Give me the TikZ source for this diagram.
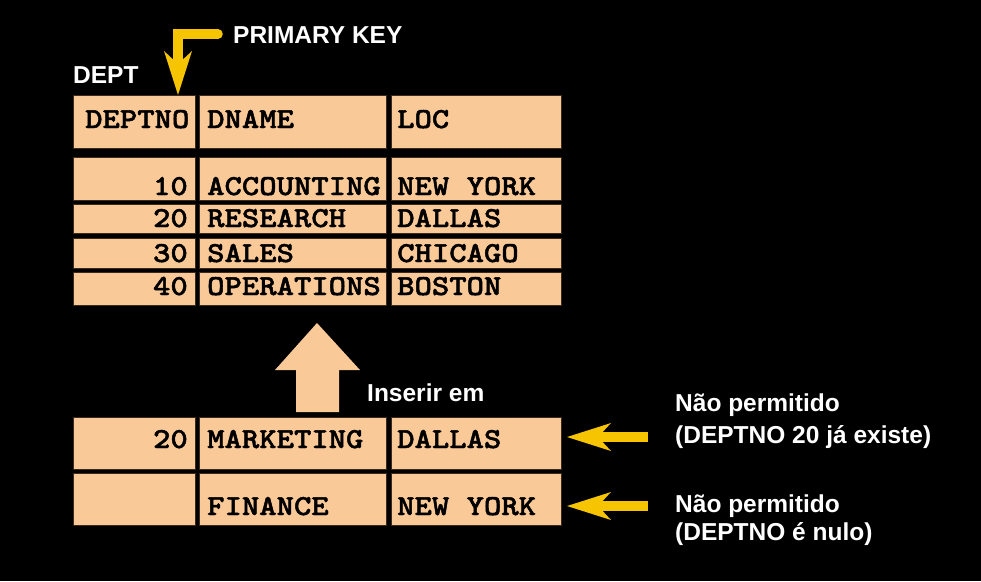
\documentclass[tikz,border=0pt]{standalone}
\usepackage{fontspec}
\setmainfont{Liberation Sans}
\newfontfamily\cellfont[FakeStretch=1.14,FakeBold=1.6]{lmmonolt10-bold.otf}
\usetikzlibrary{arrows.meta}
\definecolor{peach}{RGB}{250,201,152}
\definecolor{gold}{RGB}{246,196,0}
\definecolor{celledge}{RGB}{60,42,30}
\begin{document}
\begin{tikzpicture}[x=1pt,y=-1pt,
  cell/.style={draw=celledge, line width=1pt, fill=peach, rectangle, inner sep=0pt, outer sep=0pt},
  ctext/.style={font=\cellfont\fontsize{29}{29}\selectfont, inner sep=0pt, text=black},
  ctl/.style={ctext, anchor=base west},
  ctr/.style={ctext, anchor=base east},
  wlabel/.style={font=\bfseries\fontsize{24.5}{24.5}\selectfont, text=white, inner sep=0pt, anchor=base west},
  yarrow/.style={draw=gold, line width=9.5pt, line cap=round, line join=miter,
    -{Stealth[length=44pt,width=28pt,inset=13pt,line width=0pt]}},
]
\useasboundingbox (0,0) rectangle (981,581);
\fill[black] (0,0) rectangle (981,581);

% header row
\node[cell, minimum width=122pt, minimum height=53pt] (h1) at (134,121.5) {};
\node[cell, minimum width=187pt, minimum height=53pt] (h2) at (292.5,121.5) {};
\node[cell, minimum width=170pt, minimum height=53pt] (h3) at (476,121.5) {};
% data rows
\node[cell, minimum width=122pt, minimum height=43pt] (a1) at (134,178.5) {};
\node[cell, minimum width=187pt, minimum height=43pt] (a2) at (292.5,178.5) {};
\node[cell, minimum width=170pt, minimum height=43pt] (a3) at (476,178.5) {};
\node[cell, minimum width=122pt, minimum height=29pt] (b1) at (134,218.5) {};
\node[cell, minimum width=187pt, minimum height=29pt] (b2) at (292.5,218.5) {};
\node[cell, minimum width=170pt, minimum height=29pt] (b3) at (476,218.5) {};
\node[cell, minimum width=122pt, minimum height=30pt] (c1) at (134,253) {};
\node[cell, minimum width=187pt, minimum height=30pt] (c2) at (292.5,253) {};
\node[cell, minimum width=170pt, minimum height=30pt] (c3) at (476,253) {};
\node[cell, minimum width=122pt, minimum height=33pt] (d1) at (134,288.5) {};
\node[cell, minimum width=187pt, minimum height=33pt] (d2) at (292.5,288.5) {};
\node[cell, minimum width=170pt, minimum height=33pt] (d3) at (476,288.5) {};
% rows to insert
\node[cell, minimum width=122pt, minimum height=52pt] (m1) at (134,443) {};
\node[cell, minimum width=187pt, minimum height=52pt] (m2) at (292.5,443) {};
\node[cell, minimum width=170pt, minimum height=52pt] (m3) at (476,443) {};
\node[cell, minimum width=122pt, minimum height=52pt] (f1) at (134,499) {};
\node[cell, minimum width=187pt, minimum height=52pt] (f2) at (292.5,499) {};
\node[cell, minimum width=170pt, minimum height=52pt] (f3) at (476,499) {};

% cell texts
\node[ctl] (th1) at (85,128) {DEPTNO};
\node[ctl] (th2) at (207,128) {DNAME};
\node[ctl] (th3) at (397,128) {LOC};
\node[ctr] (ta1) at (188,195) {10};
\node[ctl] (ta2) at (207,195) {ACCOUNTING};
\node[ctl] (ta3) at (397,195) {NEW YORK};
\node[ctr] (tb1) at (188,227) {20};
\node[ctl] (tb2) at (207,227) {RESEARCH};
\node[ctl] (tb3) at (397,227) {DALLAS};
\node[ctr] (tc1) at (188,262) {30};
\node[ctl] (tc2) at (207,262) {SALES};
\node[ctl] (tc3) at (397,262) {CHICAGO};
\node[ctr] (td1) at (188,295) {40};
\node[ctl] (td2) at (207,295) {OPERATIONS};
\node[ctl] (td3) at (397,295) {BOSTON};
\node[ctr] (tm1) at (188,448) {20};
\node[ctl] (tm2) at (207,448) {MARKETING};
\node[ctl] (tm3) at (397,448) {DALLAS};
\node[ctl] (tf2) at (207,515) {FINANCE};
\node[ctl] (tf3) at (397,515) {NEW YORK};

% white labels
\node[wlabel] (pk) at (233,43) {PRIMARY KEY};
\node[wlabel] (dept) at (73,83) {DEPT};
\node[wlabel] (ins) at (367,401) {Inserir em};
\node[wlabel] (np1) at (675,411) {Não permitido};
\node[wlabel] (ex1) at (675,443) {(DEPTNO 20 já existe)};
\node[wlabel] (np2) at (675,512) {Não permitido};
\node[wlabel] (ex2) at (675,540) {(DEPTNO é nulo)};

% big insert arrow
\fill[peach] (317,323) -- (360,370) -- (339,370) -- (339,412) -- (296,412)
  -- (296,370) -- (275,370) -- cycle;

% yellow arrows
\coordinate (pkstart) at (218,34);
\coordinate (pktip) at (178,95);
\draw[yarrow] (pkstart) -| (pktip);
\coordinate (r1tail) at (648,437);
\coordinate (r1tip) at (567,437);
\coordinate (r2tail) at (648,506);
\coordinate (r2tip) at (567,506);
\draw[yarrow, line cap=butt] (r1tail) -- (r1tip);
\draw[yarrow, line cap=butt] (r2tail) -- (r2tip);
\end{tikzpicture}
\end{document}
